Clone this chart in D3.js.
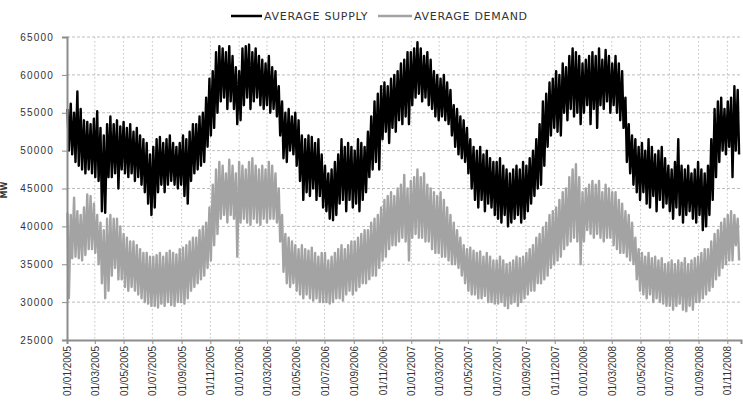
<!DOCTYPE html>
<html>

<head>
    <meta charset="utf-8">
    <script src="https://d3js.org/d3.v7.min.js"></script>
    <style>
        body { margin: 0; background: #fff; }
    </style>
    <script>
        let width = 743;
        let height = 404;
        let margin = { top: 37, right: 2, bottom: 64, left: 67 };

        // weekly readings, one high (weekday) and one low (weekend) per week from 01/01/2005
        let supplyHigh = [
            55500, 56200, 55000, 57800, 55500, 54000, 53800, 53500, 54200, 55200, 53000, 52000, 53500,
            54500, 53500, 54000, 53200, 53800, 53000, 53500, 52500, 53000, 52000, 51500, 51000, 49500,
            50500, 51500, 51800, 51000, 51500, 52000, 51000, 50500, 51000, 52000, 51500, 52500, 53500,
            53500, 54500, 55000, 57000, 59500, 60500, 63000, 63800, 63500, 63000, 63800, 62500, 61000,
            60500, 63500, 63800, 64000, 63000, 63500, 62500, 62000, 61500, 62500, 61000, 60500, 58500,
            56500, 55000, 55500, 54500, 55000, 54000, 52000, 51500, 52000, 51800, 51000, 51500, 49500,
            48000, 47000, 47500, 48500, 49500, 51500, 50500, 51000, 50500, 50000, 51500, 51000, 50500,
            52500, 54500, 56500, 57500, 58500, 59000, 58500, 59500, 60000, 60500, 61500, 62000, 63000,
            63000, 63500, 64300, 63500, 62500, 63000, 62000, 60500, 60000, 59500, 60000, 59000, 58000,
            56000, 55500, 54500, 54000, 53000, 51500, 50500, 50000, 50500, 49500, 50000, 49000, 48500,
            48500, 49000, 48000, 47500, 47000, 47500, 48000, 47500, 48500, 48000, 49000, 50000, 51500,
            53500, 56500, 57500, 59000, 59500, 60500, 60000, 61500, 61000, 62500, 63500, 63000, 62500,
            61500, 62000, 62500, 63000, 62500, 63500, 62000, 63300, 62500, 61500, 62500, 61500, 60500,
            57000, 53500, 52000, 51500, 50500, 51000, 50000, 51500, 50500, 49500, 50000, 50500, 49000,
            48000, 47500, 48500, 51500, 48000, 47500, 48000, 47000, 47500, 48500, 47500, 47000, 48000,
            51500, 55500, 56500, 57000, 55500, 56500, 57000, 58500, 58000
        ];
        let supplyLow = [
            50000, 49500, 48500, 48000, 47500, 47000, 47500, 47000, 46500, 46000, 42000, 41800, 46500,
            46500, 47000, 45000, 47500, 47000, 46500, 47000, 46000, 46500, 45500, 44500, 43000, 41500,
            42500, 44500, 45500, 44500, 45500, 46000, 45500, 45000, 45500, 44000, 43000, 46000, 47000,
            47500, 48000, 48500, 50500, 52000, 53000, 55000, 56500, 57000, 55500, 56500, 55500, 53500,
            54000, 56000, 57000, 55500, 56500, 57000, 56000, 55500, 56000, 55000, 55500, 54500, 52000,
            49000, 48500, 50000, 49500, 48000, 46000, 43500, 44500, 44000, 45000, 43500, 44000, 42500,
            42000, 41000, 40800, 41500, 43000, 43500, 42000, 43500, 42500, 43000, 42000, 43500, 44500,
            46500, 47500, 48500, 47500, 51500, 52500, 51000, 53000, 52500, 54000, 53500, 54500, 53500,
            56000, 57000, 57500, 56500, 57000, 56000, 55500, 54500, 54000, 54500, 54000, 53500, 52000,
            50500, 49500, 49000, 48500, 47000, 45000, 43500, 42500, 43500, 42000, 43000, 42500, 41500,
            41000, 40500, 41500, 40000, 40500, 41000, 41500, 40500, 41000, 42000, 43000, 44000, 45000,
            45500, 48000, 50500, 52000, 53000, 52500, 52000, 55000, 54000, 55500, 54500, 55000, 53500,
            55000, 56000, 53500, 55500, 53000, 56000, 55500, 56500, 55000, 56000, 55000, 54000, 53000,
            48500, 47000, 45500, 44500, 43500, 44500, 43000, 42500, 44000, 42000, 43500, 42500, 43000,
            42000, 41000, 42500, 41500, 40500, 41500, 42000, 41000, 40500, 41500, 39500, 40000, 41500,
            43500, 46500, 48500, 50000, 49500, 50500, 46500, 50000, 49500
        ];
        let demandHigh = [
            41800, 41500, 43800, 42000, 41500, 42500, 44200, 44000, 43000, 41500, 40500, 39500, 41000,
            41500, 41000, 41000, 40000, 39000, 38500, 38000, 38000, 37500, 37000, 36500, 36500, 36000,
            36000, 36200, 36500, 36000, 36500, 36800, 36500, 36300, 37000, 37200, 37500, 38000, 38500,
            38500, 39500, 40000, 40500, 42500, 45500, 47500, 48500, 48000, 47000, 48800, 48000, 47000,
            48500, 48000, 47500, 48500, 49000, 48000, 47500, 48000, 47500, 48500, 48000, 47000, 45000,
            41500, 39000, 38500, 38000, 37500, 37000, 37500, 37000, 36800, 37200, 36500, 36000, 36500,
            36500, 35500, 36000, 36500, 37000, 37500, 37000, 37500, 38000, 38000, 38500, 39000, 39500,
            39500, 40500, 41000, 41500, 42500, 43500, 44000, 44500, 44000, 45000, 45500, 46800, 45000,
            46000, 46500, 47500, 46500, 47000, 45500, 45000, 44500, 44000, 44500, 43500, 42500, 41500,
            40500, 39500, 38500, 37500, 37000, 37200, 36800, 36500, 36700, 36000, 36500, 36000, 35500,
            35500, 36000, 35500, 35000, 35200, 35500, 36000, 35800, 36000, 36500, 37000, 37500, 38500,
            39000, 39800, 40500, 41500, 42000, 42500, 43500, 44500, 45000, 46500, 47500, 48200, 46500,
            44500, 45000, 45500, 46000, 45500, 46000, 44500, 45500, 45000, 44500, 44500, 43500, 43000,
            42000, 41500, 40500, 38500, 37000, 36500, 36000, 36500, 35800, 36000, 35500, 35800, 35000,
            35200, 35500, 35000, 35500, 35200, 35800, 35000, 35500, 35800, 36000, 36500, 37000, 37000,
            38000, 39000, 39500, 40500, 41000, 41500, 42000, 41500, 41000
        ];
        let demandLow = [
            30500, 35800, 36000, 35800, 35500, 36200, 37000, 37000, 36500, 35000, 32500, 30500, 31500,
            33500, 34500, 33000, 33000, 32000, 31500, 32000, 31500, 31000, 30500, 30000, 29800, 29500,
            29500, 29300, 29800, 29500, 30000, 29600, 29500, 30000, 30000, 29800, 30500, 31500, 32000,
            32500, 33000, 33500, 34500, 35500, 37500, 39000, 41000, 41500, 40500, 41500, 41000, 36000,
            40500, 41000, 40500, 40200, 41000, 40500, 40200, 41000, 40500, 41000, 41000, 40500, 38000,
            34000, 32500, 32000, 32500, 31500, 31000, 30500, 31000, 30500, 30200, 30500, 30000, 30000,
            30000, 29800, 30000, 30500, 30500, 30200, 31000, 31500, 31000, 31500, 32000, 32500, 32500,
            33000, 33500, 33500, 34500, 35500, 36000, 37000, 37500, 37500, 38000, 38500, 38000, 35500,
            38500, 39000, 38500, 38500, 38000, 38000, 37000, 36500, 36500, 36000, 36000, 35500, 35000,
            35000, 34500, 33500, 32500, 31500, 31000, 31000, 30500, 30500, 30800, 30000, 30000, 29800,
            29800, 30000, 29500, 29200, 29800, 30000, 29500, 30000, 30500, 31000, 31500, 31500, 32500,
            32500, 33000, 33500, 34500, 35000, 35500, 36000, 37000, 37500, 38000, 38500, 38000, 35000,
            38000, 39500, 39000, 38500, 39000, 38500, 38000, 38500, 38500, 37500, 37000, 36500, 36500,
            36000, 35500, 35000, 33000, 31500, 31000, 30500, 31000, 30000, 30500, 30000, 29800, 29500,
            29500, 29000, 29500, 29800, 29000, 28800, 29500, 29000, 30000, 30000, 30500, 31000, 31500,
            32000, 33000, 33500, 34500, 35000, 35500, 35500, 37500, 35500
        ];

        let yTicks = [25000, 30000, 35000, 40000, 45000, 50000, 55000, 60000, 65000];
        let xTickLabels = [
            "01/01/2005", "01/03/2005", "01/05/2005", "01/07/2005", "01/09/2005", "01/11/2005",
            "01/01/2006", "01/03/2006", "01/05/2006", "01/07/2006", "01/09/2006", "01/11/2006",
            "01/01/2007", "01/03/2007", "01/05/2007", "01/07/2007", "01/09/2007", "01/11/2007",
            "01/01/2008", "01/03/2008", "01/05/2008", "01/07/2008", "01/09/2008", "01/11/2008"
        ];
        let seriesNames = ["AVERAGE SUPPLY", "AVERAGE DEMAND"];
        let seriesColors = ["#000000", "#a3a3a3"];

        let parseDay = d3.timeParse("%d/%m/%Y");
        let startDay = parseDay("01/01/2005");
        let endDay = parseDay("30/11/2008");

        // turn the weekly high/low readings into a zigzag of points
        function weekly(high, low) {
            let pts = [];
            high.forEach(function(h, i) {
                pts.push({ date: d3.timeDay.offset(startDay, 7 * i + 1), v: h });
                pts.push({ date: d3.timeDay.offset(startDay, 7 * i + 4), v: low[i] });
            });
            return pts;
        }

        function draw() {
            let svg = d3.select('body').append('svg')
                .attr('width', width)
                .attr('height', height)
                .style('font-family', '"DejaVu Sans", sans-serif');

            let x = d3.scaleTime()
                .domain([startDay, endDay])
                .range([margin.left, width - margin.right]);
            let y = d3.scaleLinear()
                .domain([25000, 65000])
                .range([height - margin.bottom, margin.top]);

            let xTicks = xTickLabels.map(parseDay);

            // grid
            svg.append("g").selectAll("line")
                .data(yTicks.slice(1))
                .join("line")
                .attr("x1", margin.left).attr("x2", width - margin.right)
                .attr("y1", d => y(d)).attr("y2", d => y(d))
                .attr("stroke", "#bdbdbd")
                .attr("stroke-dasharray", "3,2");
            svg.append("g").selectAll("line")
                .data(xTicks.slice(1))
                .join("line")
                .attr("x1", d => x(d)).attr("x2", d => x(d))
                .attr("y1", margin.top).attr("y2", height - margin.bottom)
                .attr("stroke", "#c4c4c4")
                .attr("stroke-dasharray", "1.5,2.5");

            // series
            let line = d3.line()
                .x(d => x(d.date))
                .y(d => y(d.v));
            let series = [weekly(demandHigh, demandLow), weekly(supplyHigh, supplyLow)];
            let colors = [seriesColors[1], seriesColors[0]];
            svg.append("g").selectAll("path")
                .data(series)
                .join("path")
                .attr("d", line)
                .attr("fill", "none")
                .attr("stroke", (d, i) => colors[i])
                .attr("stroke-width", 2.4)
                .attr("stroke-linejoin", "round");

            // y axis
            let yAxis = svg.append("g")
                .attr("transform", "translate(" + margin.left + ",0)")
                .call(d3.axisLeft(y).tickValues(yTicks).tickSize(5).tickPadding(8).tickFormat(d3.format("d")));
            yAxis.select(".domain").attr("stroke", "#8c8c8c").attr("stroke-width", 2);
            yAxis.selectAll(".tick line").attr("stroke", "#8c8c8c");
            yAxis.selectAll("text")
                .style("font-size", "10px")
                .style("letter-spacing", "1.2px")
                .attr("fill", "#333");

            // x axis
            let xAxis = svg.append("g")
                .attr("transform", "translate(0," + (height - margin.bottom) + ")")
                .call(d3.axisBottom(x).tickValues(xTicks).tickSize(4).tickFormat(d3.timeFormat("%d/%m/%Y")));
            xAxis.select(".domain").attr("stroke", "#8c8c8c").attr("stroke-width", 2);
            xAxis.selectAll(".tick line").attr("stroke", "#8c8c8c");
            xAxis.selectAll("text")
                .attr("transform", "rotate(-90)")
                .attr("x", -6)
                .attr("y", 0)
                .attr("dy", "0.35em")
                .style("text-anchor", "end")
                .style("font-size", "10px")
                .attr("fill", "#333");

            svg.append("text")
                .attr("transform", "translate(7,190) rotate(-90)")
                .style("text-anchor", "middle")
                .style("font-size", "8px")
                .style("font-weight", "bold")
                .attr("fill", "#333")
                .text("MW");

            // legend
            let legendX = [231, 378];
            let legend = svg.append("g").selectAll("g")
                .data(seriesNames)
                .join("g")
                .attr("transform", (d, i) => "translate(" + legendX[i] + ",16)");
            legend.append("line")
                .attr("x1", 0).attr("x2", (d, i) => i == 0 ? 31 : 34)
                .attr("stroke", (d, i) => seriesColors[i])
                .attr("stroke-width", 2.5);
            legend.append("text")
                .attr("x", (d, i) => i == 0 ? 33 : 36)
                .attr("y", 4)
                .style("font-size", "11px")
                .style("letter-spacing", "0.7px")
                .attr("fill", "#333")
                .text(d => d);
        }
    </script>
</head>

<body>
    <script>
        draw();
    </script>
</body>

</html>
